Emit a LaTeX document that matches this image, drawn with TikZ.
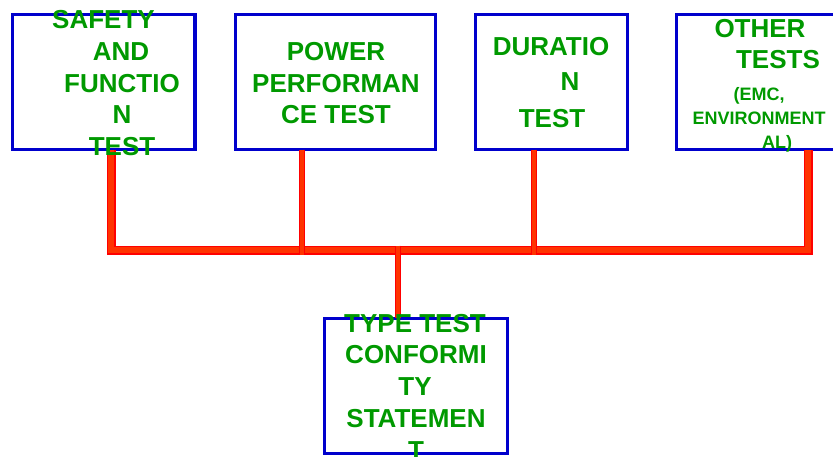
\documentclass[tikz,border=0pt]{standalone}
\usepackage{fontspec}
\setmainfont{Liberation Sans}
\definecolor{boxblue}{HTML}{0000CC}
\definecolor{labelgreen}{HTML}{009900}
\definecolor{busred}{HTML}{FF0000}
\definecolor{busfill}{HTML}{FF3300}
\begin{document}
\begin{tikzpicture}[x=1pt,y=-1pt,
  testbox/.style={draw=boxblue,line width=3.3pt,inner sep=0pt,outer sep=0pt,minimum height=135.4pt},
  biglabel/.style={text=labelgreen,anchor=base,inner sep=0pt,font=\bfseries\fontsize{26}{26}\selectfont},
  smalllabel/.style={text=labelgreen,anchor=base,inner sep=0pt,font=\bfseries\fontsize{18}{18}\selectfont},
  busthick/.style={draw=busred,line width=1.5pt,double=busfill,double distance=6pt,line join=miter},
  busthin/.style={draw=busred,line width=1.2pt,double=busfill,double distance=3.6pt}]
\path[use as bounding box] (0,0) rectangle (833,456);
\clip (0,0) rectangle (833,456);

% test boxes
\node[testbox,minimum width=182.7pt] (b1) at (103.65,82) {};
\node[testbox,minimum width=199.6pt] (b2) at (335.5,82) {};
\node[testbox,minimum width=151.8pt] (b3) at (551.6,82) {};
\node[testbox,minimum width=223.7pt] (b4) at (788.15,82) {};
\node[testbox,minimum width=183.4pt,minimum height=135pt] (b5) at (416,385.8) {};

% bus connecting the tests
\coordinate (busL) at (111,250);
\coordinate (busR) at (808,250);
\draw[busthick] (busL |- b1.south) -- (busL) -- (busR) -- (busR |- b4.south);
\coordinate (tapP) at (302,254.5);
\coordinate (tapD) at (534,254.5);
\coordinate (tapT) at (398,245.5);
\draw[busthin] (tapP |- b2.south) -- (tapP);
\draw[busthin] (tapD |- b3.south) -- (tapD);
\draw[busthin] (tapT) -- (tapT |- b5.north);

% labels
\node[biglabel] (l1a) at (103.5,28) {SAFETY};
\node[biglabel] (l1b) at (121,60) {AND};
\node[biglabel] (l1c) at (122,92) {FUNCTIO};
\node[biglabel] (l1d) at (122,123) {N};
\node[biglabel] (l1e) at (122,155) {TEST};

\node[biglabel] (l2a) at (336,60) {POWER};
\node[biglabel] (l2b) at (336,92) {PERFORMAN};
\node[biglabel] (l2c) at (336,123) {CE TEST};

\node[biglabel] (l3a) at (551,55) {DURATIO};
\node[biglabel] (l3b) at (570,90) {N};
\node[biglabel] (l3c) at (552,127) {TEST};

\node[biglabel] (l4a) at (760,37) {OTHER};
\node[biglabel] (l4b) at (778,68) {TESTS};
\node[smalllabel] (l4c) at (759,100) {(EMC,};
\node[smalllabel] (l4d) at (759,124) {ENVIRONMENT};
\node[smalllabel] (l4e) at (777,148) {AL)};

\node[biglabel] (l5a) at (415,332) {TYPE TEST};
\node[biglabel] (l5b) at (416,363) {CONFORMI};
\node[biglabel] (l5c) at (415,395) {TY};
\node[biglabel] (l5d) at (416,427) {STATEMEN};
\node[biglabel] (l5e) at (416,459) {T};
\end{tikzpicture}
\end{document}
